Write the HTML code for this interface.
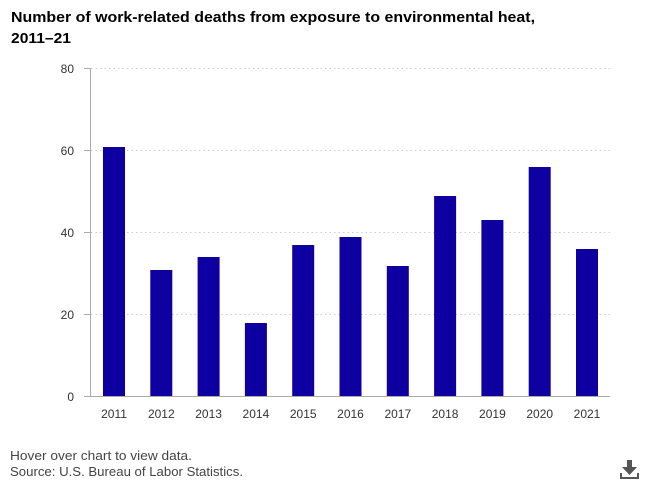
<!DOCTYPE html>
<html><head><style>
body{margin:0;background:#fff;font-family:"Liberation Sans",sans-serif;}
</style></head><body>
<svg width="656" height="486" xmlns="http://www.w3.org/2000/svg" font-family="Liberation Sans, sans-serif">
<text x="11" y="22" font-size="15" font-weight="bold" fill="#000" textLength="524" lengthAdjust="spacingAndGlyphs">Number of work-related deaths from exposure to environmental heat,</text>
<text x="11" y="43" font-size="15" font-weight="bold" fill="#000" textLength="60" lengthAdjust="spacingAndGlyphs">2011–21</text>
<g stroke="#ccc" stroke-dasharray="1.5,3" stroke-width="1">
<line x1="91" y1="68.5" x2="610" y2="68.5"/>
<line x1="91" y1="150.5" x2="610" y2="150.5"/>
<line x1="91" y1="232.5" x2="610" y2="232.5"/>
<line x1="91" y1="314.5" x2="610" y2="314.5"/>
</g>
<g stroke="#aaa">
<line x1="90.5" y1="68" x2="90.5" y2="396"/>
<line x1="84" y1="68.5" x2="90" y2="68.5"/>
<line x1="84" y1="150.5" x2="90" y2="150.5"/>
<line x1="84" y1="232.5" x2="90" y2="232.5"/>
<line x1="84" y1="314.5" x2="90" y2="314.5"/>
<line x1="84" y1="396.5" x2="610" y2="396.5"/>
</g>
<g font-size="12" fill="#333" text-anchor="end">
<text x="74" y="73">80</text><text x="74" y="155">60</text><text x="74" y="237">40</text><text x="74" y="319">20</text><text x="74" y="401">0</text>
</g>
<g fill="#0e00a0">
<rect x="103" y="147" width="22" height="249"/>
<rect x="150.3" y="270" width="22" height="126"/>
<rect x="197.6" y="257" width="22" height="139"/>
<rect x="244.9" y="323" width="22" height="73"/>
<rect x="292.2" y="245" width="22" height="151"/>
<rect x="339.5" y="237" width="22" height="159"/>
<rect x="386.8" y="266" width="22" height="130"/>
<rect x="434.1" y="196" width="22" height="200"/>
<rect x="481.4" y="220" width="22" height="176"/>
<rect x="528.7" y="167" width="22" height="229"/>
<rect x="576" y="249" width="22" height="147"/>
</g>
<g font-size="12" fill="#333" text-anchor="middle">
<text x="114" y="418">2011</text><text x="161.3" y="418">2012</text><text x="208.6" y="418">2013</text><text x="255.9" y="418">2014</text><text x="303.2" y="418">2015</text><text x="350.5" y="418">2016</text><text x="397.8" y="418">2017</text><text x="445.1" y="418">2018</text><text x="492.4" y="418">2019</text><text x="539.7" y="418">2020</text><text x="587" y="418">2021</text>
</g>
<text x="10" y="460" font-size="13" fill="#444" textLength="182" lengthAdjust="spacingAndGlyphs">Hover over chart to view data.</text>
<text x="10" y="476" font-size="13" fill="#444" textLength="233" lengthAdjust="spacingAndGlyphs">Source: U.S. Bureau of Labor Statistics.</text>
<g fill="#555">
<rect x="627" y="460" width="5" height="8"/>
<polygon points="622,467 637,467 629.5,475"/>
<rect x="620" y="477" width="19" height="2"/>
<rect x="620" y="473" width="2" height="5"/>
<rect x="637" y="473" width="2" height="5"/>
</g>
</svg>
</body></html>
